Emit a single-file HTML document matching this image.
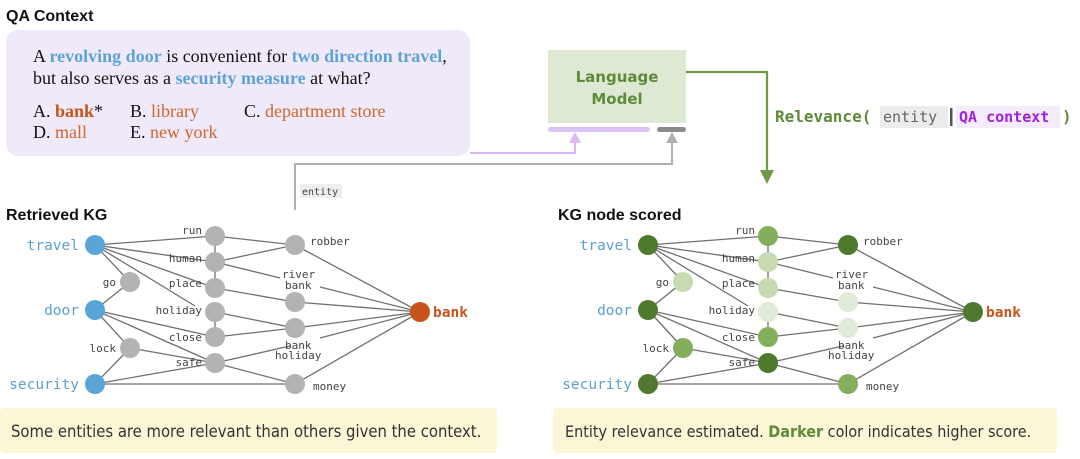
<!DOCTYPE html>
<html><head><meta charset="utf-8"><style>
body{margin:0;width:1080px;height:459px;background:#fff;overflow:hidden}
svg{display:block}
.t{font-family:"Liberation Sans",sans-serif;font-weight:bold;font-size:16px;fill:#111}
.s{font-family:"Liberation Serif",serif;font-size:18px;fill:#111}
.m{font-family:"DejaVu Sans Mono","Liberation Mono",monospace;font-size:11px;fill:#444}
.e{font-family:"DejaVu Sans Mono","Liberation Mono",monospace;font-size:14.5px;fill:#5aa0d0}
.ed line{stroke:#707070;stroke-width:1.3}
</style></head><body>
<svg width="1080" height="459" viewBox="0 0 1080 459">
<defs>
<g id="edges" class="ed">
<line x1="95" y1="245" x2="215" y2="236"/><line x1="95" y1="245" x2="215" y2="262"/>
<line x1="95" y1="245" x2="215" y2="288"/><line x1="95" y1="245" x2="195" y2="306"/>
<line x1="95" y1="245" x2="130" y2="282"/><line x1="130" y1="282" x2="95" y2="310"/>
<line x1="95" y1="310" x2="215" y2="337"/><line x1="95" y1="310" x2="215" y2="363"/>
<line x1="95" y1="310" x2="130" y2="348"/><line x1="130" y1="348" x2="215" y2="363"/>
<line x1="130" y1="348" x2="95" y2="384"/><line x1="95" y1="384" x2="215" y2="363"/>
<line x1="95" y1="384" x2="295" y2="384"/>
<line x1="215" y1="236" x2="215" y2="288"/><line x1="215" y1="312" x2="215" y2="337"/>
<line x1="215" y1="236" x2="295" y2="245"/><line x1="215" y1="262" x2="295" y2="245"/>
<line x1="215" y1="262" x2="280" y2="278"/><line x1="215" y1="288" x2="295" y2="302"/>
<line x1="215" y1="312" x2="295" y2="328"/><line x1="215" y1="337" x2="295" y2="328"/>
<line x1="215" y1="363" x2="290" y2="346"/><line x1="215" y1="363" x2="295" y2="384"/>
<line x1="295" y1="245" x2="420" y2="312"/><line x1="320" y1="287" x2="420" y2="312"/>
<line x1="295" y1="302" x2="420" y2="312"/><line x1="295" y1="328" x2="420" y2="312"/>
<line x1="320" y1="338" x2="420" y2="312"/><line x1="295" y1="384" x2="420" y2="312"/>
</g>
<g id="labels">
<text class="e" x="79" y="250" text-anchor="end">travel</text>
<text class="e" x="79" y="315" text-anchor="end">door</text>
<text class="e" x="79" y="389" text-anchor="end">security</text>
<g class="m" text-anchor="end">
<text x="116" y="286">go</text><text x="116" y="352">lock</text>
<text x="202" y="234">run</text><text x="202" y="262">human</text>
<text x="202" y="287">place</text><text x="202" y="314">holiday</text>
<text x="202" y="341">close</text><text x="202" y="366">safe</text>
</g>
<g class="m">
<text x="310" y="245">robber</text><text x="282" y="278">river</text><text x="285" y="289">bank</text>
<text x="285" y="349">bank</text><text x="275" y="359">holiday</text><text x="313" y="390">money</text>
</g>
<text x="433" y="317" style="font-family:'DejaVu Sans Mono',monospace;font-size:14.5px;font-weight:bold;fill:#c8541a">bank</text>
</g>
</defs>

<text class="t" x="6" y="21">QA Context</text>
<rect x="6" y="30" width="464" height="126" rx="12" fill="#efe9f9"/>
<text class="s" x="33" y="62">A <tspan fill="#5ea3d6" font-weight="bold">revolving door</tspan> is convenient for <tspan fill="#5ea3d6" font-weight="bold">two direction travel</tspan>,</text>
<text class="s" x="33" y="84">but also serves as a <tspan fill="#5ea3d6" font-weight="bold">security measure</tspan> at what?</text>
<text class="s" x="33" y="117">A. <tspan fill="#c8541a" font-weight="bold">bank</tspan>*</text>
<text class="s" x="130" y="117">B. <tspan fill="#d0662a">library</tspan></text>
<text class="s" x="244" y="117">C. <tspan fill="#d0662a">department store</tspan></text>
<text class="s" x="33" y="138">D. <tspan fill="#d0662a">mall</tspan></text>
<text class="s" x="130" y="138">E. <tspan fill="#d0662a">new york</tspan></text>

<polyline points="470,153 575,153 575,142" fill="none" stroke="#d9b8f5" stroke-width="2"/>
<polygon points="569,143 581,143 575,132" fill="#d9b8f5"/>
<polyline points="295,210 295,164 672,164 672,142" fill="none" stroke="#b0b0b0" stroke-width="2"/>
<polygon points="666,143 678,143 672,132" fill="#b0b0b0"/>
<rect x="300" y="184" width="42" height="14" fill="#eee"/>
<text class="m" x="302" y="195" style="font-size:10px">entity</text>

<rect x="548" y="50" width="138" height="73" fill="#dde9d2"/>
<text x="617" y="82" text-anchor="middle" style="font-family:'DejaVu Sans',sans-serif;font-weight:bold;font-size:15px;fill:#5e8a3a">Language</text>
<text x="617" y="104" text-anchor="middle" style="font-family:'DejaVu Sans',sans-serif;font-weight:bold;font-size:15px;fill:#5e8a3a">Model</text>
<rect x="548" y="127" width="102" height="5" rx="2.5" fill="#dcc3f5"/>
<rect x="657" y="127" width="29" height="5" rx="2.5" fill="#8a8a8a"/>
<polyline points="686,72 767,72 767,172" fill="none" stroke="#6f9a45" stroke-width="2.2"/>
<polygon points="760,170 774,170 767,184" fill="#6f9a45"/>
<text x="775" y="122" style="font-family:'DejaVu Sans Mono',monospace;font-weight:bold;font-size:16px;fill:#5e8a3a">Relevance(</text>
<rect x="880" y="106" width="68" height="22" fill="#ececec"/>
<text x="883" y="122" style="font-family:'DejaVu Sans Mono',monospace;font-size:15px;fill:#666">entity</text>
<rect x="950" y="108" width="2.5" height="18" fill="#555"/>
<rect x="956" y="106" width="104" height="22" fill="#f4ecfb"/>
<text x="959" y="122" style="font-family:'DejaVu Sans Mono',monospace;font-weight:bold;font-size:15px;fill:#a020e0">QA context</text>
<text x="1062" y="122" style="font-family:'DejaVu Sans Mono',monospace;font-weight:bold;font-size:16px;fill:#5e8a3a">)</text>

<text class="t" x="6" y="220">Retrieved KG</text>
<use href="#edges"/>
<g fill="#b3b3b3">
<circle cx="215" cy="236" r="10"/><circle cx="215" cy="262" r="10"/><circle cx="215" cy="288" r="10"/>
<circle cx="215" cy="312" r="10"/><circle cx="215" cy="337" r="10"/><circle cx="215" cy="363" r="10"/>
<circle cx="130" cy="282" r="10"/><circle cx="130" cy="348" r="10"/>
<circle cx="295" cy="245" r="10"/><circle cx="295" cy="302" r="10"/><circle cx="295" cy="328" r="10"/><circle cx="295" cy="384" r="10"/>
</g>
<g fill="#5aa5d8"><circle cx="95" cy="245" r="10"/><circle cx="95" cy="310" r="10"/><circle cx="95" cy="384" r="10"/></g>
<circle cx="420" cy="312" r="10" fill="#c8541a"/>
<use href="#labels"/>

<text class="t" x="558" y="220">KG node scored</text>
<g transform="translate(553,0)">
<use href="#edges"/>
<circle cx="95" cy="245" r="10" fill="#4f7a2e"/><circle cx="95" cy="310" r="10" fill="#4f7a2e"/><circle cx="95" cy="384" r="10" fill="#4f7a2e"/>
<circle cx="130" cy="282" r="10" fill="#c6dcb0"/><circle cx="130" cy="348" r="10" fill="#84ad5c"/>
<circle cx="215" cy="236" r="10" fill="#84ad5c"/><circle cx="215" cy="262" r="10" fill="#c6dcb0"/>
<circle cx="215" cy="288" r="10" fill="#c6dcb0"/><circle cx="215" cy="312" r="10" fill="#e0ead6"/>
<circle cx="215" cy="337" r="10" fill="#84ad5c"/><circle cx="215" cy="363" r="10" fill="#4f7a2e"/>
<circle cx="295" cy="245" r="10" fill="#4f7a2e"/><circle cx="295" cy="302" r="10" fill="#e0ead6"/>
<circle cx="295" cy="328" r="10" fill="#e0ead6"/><circle cx="295" cy="384" r="10" fill="#84ad5c"/>
<circle cx="420" cy="312" r="10" fill="#4f7a2e"/>
<use href="#labels"/>
</g>

<rect x="0" y="408" width="497" height="45" rx="4" fill="#faf6d6"/>
<text x="11" y="437" style="font-family:'DejaVu Sans Condensed','Liberation Sans Narrow',sans-serif;font-size:16.5px;fill:#333">Some entities are more relevant than others given the context.</text>
<rect x="553" y="408" width="504" height="45" rx="4" fill="#faf6d6"/>
<text x="565" y="437" style="font-family:'DejaVu Sans Condensed','Liberation Sans Narrow',sans-serif;font-size:16px;fill:#333">Entity relevance estimated. <tspan font-weight="bold" fill="#5e8a3a">Darker</tspan> color indicates higher score.</text>
</svg>
</body></html>
